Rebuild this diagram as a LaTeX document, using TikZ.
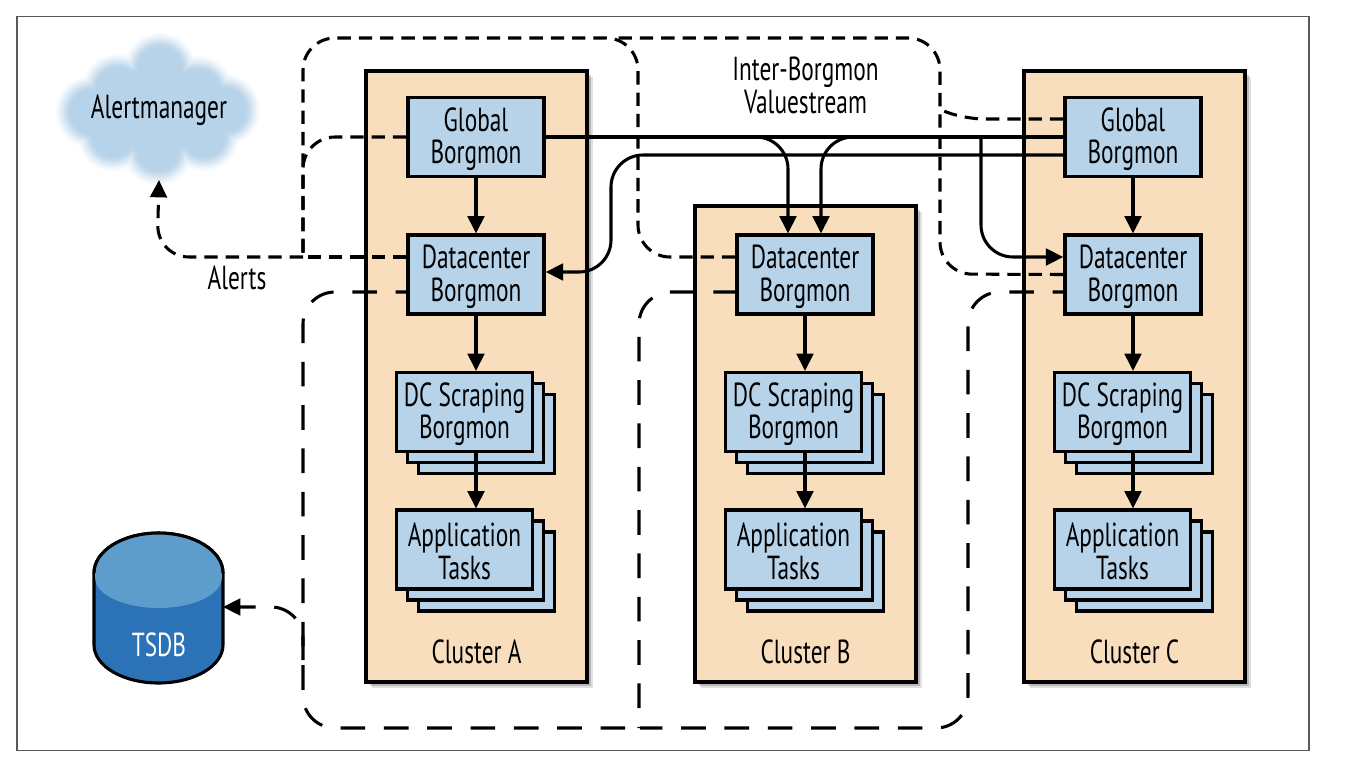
\documentclass[tikz,border=0pt]{standalone}
\usepackage{fontspec}
\setmainfont[FakeStretch=0.7]{PT Sans}
\usetikzlibrary{arrows.meta,shadows,calc}
\definecolor{peach}{HTML}{F8DEBD}
\definecolor{lblue}{HTML}{B7D3E9}
\definecolor{dbtop}{HTML}{5E9CCB}
\definecolor{dbbody}{HTML}{2C72B6}
\tikzset{
  lbl/.style={font=\fontsize{25}{24.5}\selectfont,align=center,text=black,inner sep=0pt},
  clusterbox/.style={draw=black,line width=2.6pt,fill=peach,
    drop shadow={shadow xshift=4.5pt,shadow yshift=-4.5pt,opacity=.12,fill=black},
    drop shadow={shadow xshift=3pt,shadow yshift=-3pt,opacity=.18,fill=black},
    drop shadow={shadow xshift=1.5pt,shadow yshift=-1.5pt,opacity=.25,fill=black}},
  bluebox/.style={draw=black,line width=2.6pt,fill=lblue,minimum width=102pt,minimum height=59pt,inner sep=0pt},
  textin/.style={label={[lbl,yshift=-1.5pt]center:{#1}}},
  flow/.style={line width=2.3pt,draw=black,-{Triangle[length=13pt,width=12.5pt]}},
  wire/.style={line width=2.3pt,draw=black},
  shortdash/.style={line width=2.3pt,draw=black,dash pattern=on 10pt off 6pt},
  longdash/.style={line width=2.3pt,draw=black,dash pattern=on 18.5pt off 14pt},
}
\newcommand{\mystack}[4]{%
  \node[bluebox,anchor=center] (#1-3) at (#2+22,#3+22) {};
  \node[bluebox,anchor=center] (#1-2) at (#2+11,#3+11) {};
  \node[bluebox,anchor=center,textin={#4}] (#1) at (#2,#3) {};
}
\begin{document}
\begin{tikzpicture}[x=0.75pt,y=-0.75pt]
\useasboundingbox (0,0) rectangle (1348,768);
\fill[white] (0,0) rectangle (1348,768);
\node[draw=black!65,line width=.8pt,minimum width=969pt,minimum height=551pt,inner sep=0pt] (frame) at (663,383.5) {};

% cloud
\foreach \g/\d in {10/9,22/7,36/5,52/3,68/1,84/-1,94/-3,100/-5}{
  \fill[lblue!\g!white]
    (160,69) circle ({27+\d}) (118,90) circle ({27+\d}) (198,92) circle ({27+\d})
    (92,112) circle ({27+\d}) (224,110) circle ({27+\d}) (113,136) circle ({26+\d})
    (204,136) circle ({26+\d}) (158,150) circle ({26+\d}) (158,110) circle ({50+\d});
}
\node[lbl] (am) at (159,110) {Alertmanager};

% clusters
\node[clusterbox,minimum width=166pt,minimum height=458pt,inner sep=0pt] (ca) at (476.5,376.5) {};
\node[clusterbox,minimum width=166pt,minimum height=357pt,inner sep=0pt] (cb) at (805.5,444) {};
\node[clusterbox,minimum width=166pt,minimum height=458pt,inner sep=0pt] (cc) at (1134.5,376.5) {};
\node[lbl] (la) at (476.5,652) {Cluster A};
\node[lbl] (lb) at (805.5,652) {Cluster B};
\node[lbl] (lc) at (1134.5,652) {Cluster C};

% boxes
\node[bluebox,textin={Global\\Borgmon}] (ga) at (476,137) {};
\node[bluebox,textin={Global\\Borgmon}] (gc) at (1133,137) {};
\node[bluebox,textin={Datacenter\\Borgmon}] (da) at (476,274.5) {};
\node[bluebox,textin={Datacenter\\Borgmon}] (db) at (805,274.5) {};
\node[bluebox,textin={Datacenter\\Borgmon}] (dc) at (1133,274.5) {};
\mystack{sa}{464.5}{412}{DC Scraping\\Borgmon}
\mystack{sb}{793.5}{412}{DC Scraping\\Borgmon}
\mystack{sc}{1122.5}{412}{DC Scraping\\Borgmon}
\mystack{ta}{464.5}{549.5}{Application\\Tasks}
\mystack{tb}{793.5}{549.5}{Application\\Tasks}
\mystack{tc}{1122.5}{549.5}{Application\\Tasks}

% TSDB
\filldraw[fill=dbbody,draw=black,line width=2.3pt]
  (94,573) arc[start angle=180,end angle=0,x radius=64.5,y radius=-40] -- (223,645)
  arc[start angle=0,end angle=-180,x radius=64.5,y radius=-38] -- cycle;
\fill[dbtop] (95.2,573) arc[start angle=180,end angle=0,x radius=63.3,y radius=-39]
  -- (221.8,578) arc[start angle=0,end angle=-180,x radius=63.3,y radius=-30] -- cycle;
\draw[black,line width=2.3pt]
  (94,573) arc[start angle=180,end angle=0,x radius=64.5,y radius=-40];
\node[lbl,text=white] (db0) at (159,645) {TSDB};
\coordinate (dbport) at (223,607);

% texts
\node[lbl] (alerts) at (237,278) {Alerts};
\node[lbl] (ibv) at (805.5,85.5) {Inter-Borgmon\\Valuestream};

% vertical arrows
\foreach \u/\v in {ga/da,gc/dc}{
  \draw[flow] (\u.south) -- (\v.north);
}
\foreach \v/\s/\t in {da/sa/ta,db/sb/tb,dc/sc/tc}{
  \draw[flow] (\v.south) -- (\v.south |- \s.north);
  \draw[flow] (\v.south |- \s.south) -- (\v.south |- \t.north);
}

% solid inter-cluster lines
\draw[wire] (ga.east) -- (gc.west);
\draw[flow,rounded corners=24pt] (ga.east) -- ($(db.north |- ga.east)+(-17,0)$) -- ($(db.north)+(-17,0)$);
\draw[flow,rounded corners=24pt] (gc.west) -- ($(db.north |- gc.west)+(16,0)$) -- ($(db.north)+(16,0)$);
\draw[flow,rounded corners=24pt] (981,137) -- (981,257) -- ($(dc.west)+(0,-17.5)$);
\draw[flow,rounded corners=24pt] ($(gc.west)+(0,18)$) -- (611,155) -- (611,272) -- ($(da.east)+(0,-2.5)$);

% short dashes: inter-Borgmon
\draw[shortdash,rounded corners=24pt] (ga.west) -- (303,137) -- (303,257);
\draw[shortdash] ($(da.west)+(0,-17.5)$) -- (303,257);
\draw[shortdash,-{Triangle[length=13pt,width=12.5pt]},rounded corners=24pt] (303,257) -- (157,257) -- (am.south |- 0,180);
\draw[shortdash,rounded corners=24pt] ($(db.west)+(0,-17.5)$) -- (638,257) -- (638,38) -- (303,38) -- (303,257);
\draw[shortdash,rounded corners=24pt] (dc.west) -- (940,274) -- (940,38) -- (612,38);
\draw[shortdash,rounded corners=14pt] ($(gc.west)+(0,-18)$) -- (965,119) -- (941,110);

% long dashes: scraping side
\draw[longdash,dash phase=10.5pt,rounded corners=24pt] ($(da.west)+(0,17.5)$) -- (303,292) -- (303,728) -- (640,728);
\draw[longdash,dash phase=10.5pt,rounded corners=24pt] ($(dc.west)+(0,17.5)$) -- (968,292) -- (968,728) -- (640,728);
\draw[longdash,dash phase=2pt,rounded corners=24pt] ($(db.west)+(0,17.5)$) -- (639,292) -- (639,728);
\draw[longdash,-{Triangle[length=13pt,width=12.5pt]},rounded corners=24pt] (303,660) -- (303,607) -- (dbport);
\end{tikzpicture}
\end{document}
